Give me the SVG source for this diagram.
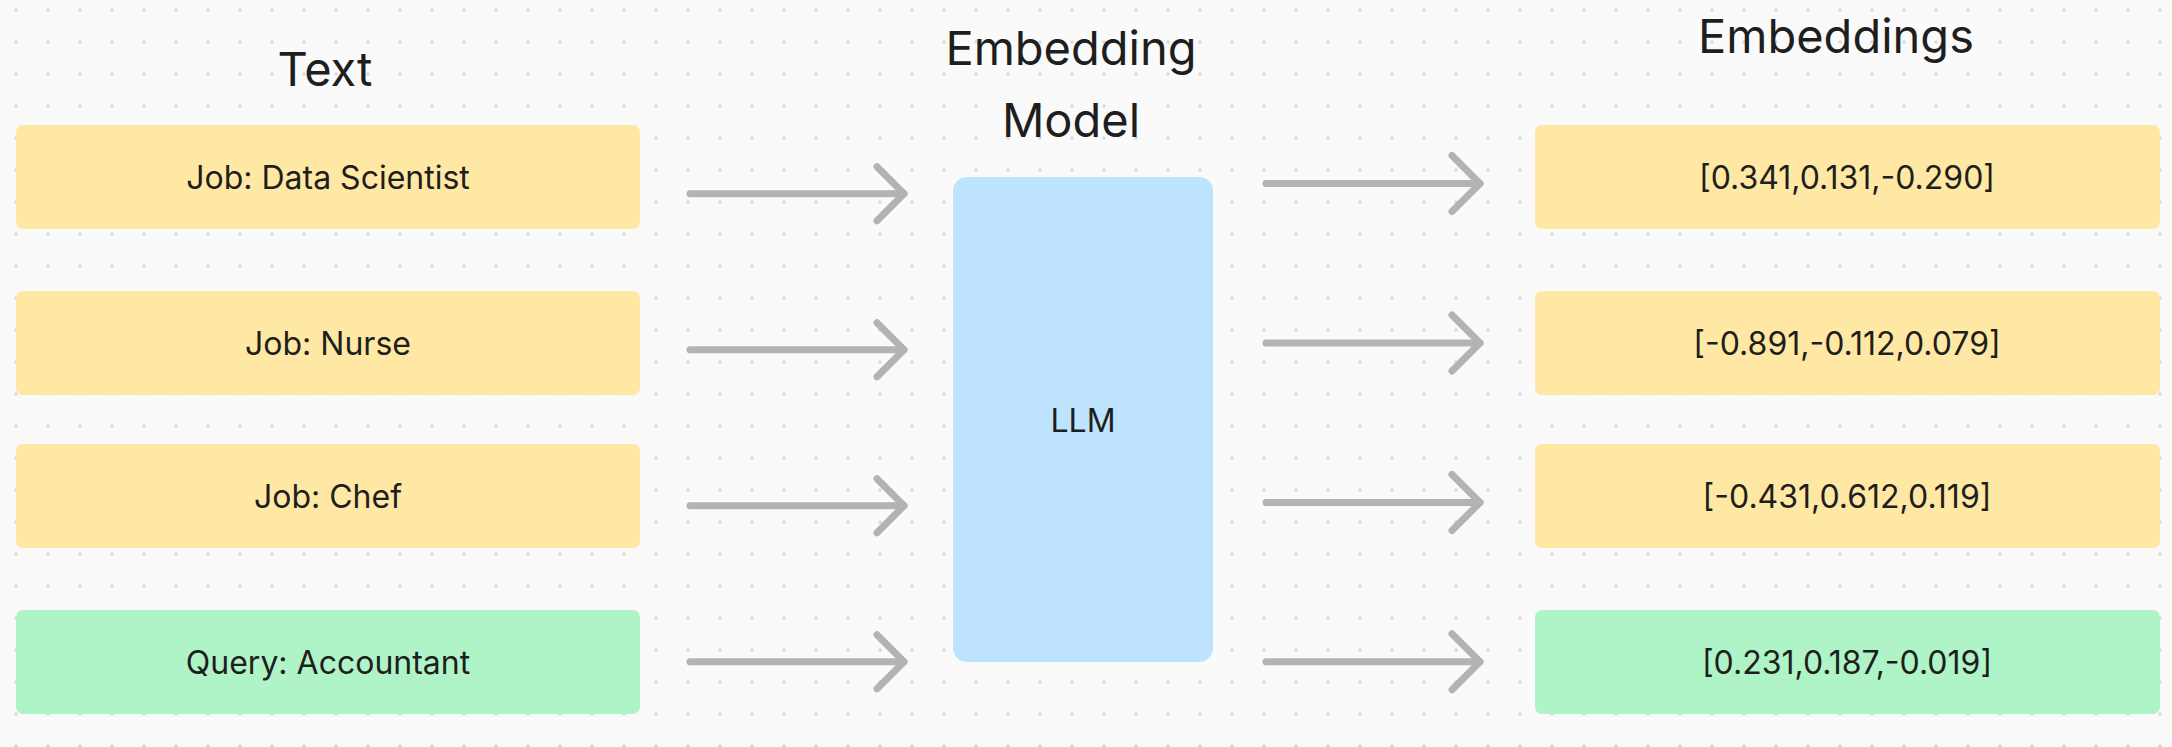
<svg xmlns="http://www.w3.org/2000/svg" xmlns:xlink="http://www.w3.org/1999/xlink" width="2172" height="747" viewBox="0 0 2172 747">
  <style>
    .title { font-family: Inter, "Liberation Sans", sans-serif; font-size: 47px; fill: #1e1e1e; text-anchor: middle; }
    .label { font-family: Inter, "Liberation Sans", sans-serif; font-size: 32px; fill: #1e1e1e; text-anchor: middle; }
    .yellow { fill: #FFE8A3; }
    .green { fill: #AFF4C6; }
    .blue { fill: #BDE3FF; }
    .arrow { fill: none; stroke: #B3B3B3; stroke-width: 7; stroke-linecap: round; stroke-linejoin: round; }
  </style>
  <defs>
    <pattern id="dots" patternUnits="userSpaceOnUse" x="0" y="0" width="32" height="32">
      <circle cx="16" cy="10" r="1.8" fill="#D9D9D9"/>
    </pattern>
    <path id="headL" class="arrow" d="M -27 -27 L 0 0 L -27 27"/>
    <path id="headR" class="arrow" d="M -28 -28 L 0 0 L -28 28"/>
  </defs>

  <rect width="2172" height="747" fill="#FAFAFA"/>
  <rect width="2172" height="747" fill="url(#dots)"/>

  <g id="titles">
    <text class="title" x="325" y="86">Text</text>
    <text class="title" x="1071" y="65">Embedding</text>
    <text class="title" x="1071" y="137">Model</text>
    <text class="title" x="1836" y="53">Embeddings</text>
  </g>

  <g id="connectors">
    <path class="arrow" d="M 690 193.7 H 904"/>
    <use xlink:href="#headL" x="904" y="193.7"/>
    <path class="arrow" d="M 690 349.7 H 904"/>
    <use xlink:href="#headL" x="904" y="349.7"/>
    <path class="arrow" d="M 690 505.7 H 904"/>
    <use xlink:href="#headL" x="904" y="505.7"/>
    <path class="arrow" d="M 690 661.7 H 904"/>
    <use xlink:href="#headL" x="904" y="661.7"/>

    <path class="arrow" d="M 1266 183.5 H 1480"/>
    <use xlink:href="#headR" x="1480" y="183.5"/>
    <path class="arrow" d="M 1266 343 H 1480"/>
    <use xlink:href="#headR" x="1480" y="343"/>
    <path class="arrow" d="M 1266 502.5 H 1480"/>
    <use xlink:href="#headR" x="1480" y="502.5"/>
    <path class="arrow" d="M 1266 661.7 H 1480"/>
    <use xlink:href="#headR" x="1480" y="661.7"/>
  </g>

  <g id="text-data-scientist">
    <rect class="yellow" x="16" y="125" width="624" height="104" rx="7"/>
    <text class="label" x="328" y="189">Job: Data Scientist</text>
  </g>
  <g id="text-nurse">
    <rect class="yellow" x="16" y="291" width="624" height="104" rx="7"/>
    <text class="label" x="328" y="355">Job: Nurse</text>
  </g>
  <g id="text-chef">
    <rect class="yellow" x="16" y="444" width="624" height="104" rx="7"/>
    <text class="label" x="328" y="508">Job: Chef</text>
  </g>
  <g id="text-query">
    <rect class="green" x="16" y="610" width="624" height="104" rx="7"/>
    <text class="label" x="328" y="674">Query: Accountant</text>
  </g>

  <g id="llm">
    <rect class="blue" x="953" y="177" width="260" height="485" rx="14"/>
    <text class="label" x="1083" y="432">LLM</text>
  </g>

  <g id="emb-data-scientist">
    <rect class="yellow" x="1535" y="125" width="625" height="104" rx="7"/>
    <text class="label" x="1847" y="189">[0.341,0.131,-0.290]</text>
  </g>
  <g id="emb-nurse">
    <rect class="yellow" x="1535" y="291" width="625" height="104" rx="7"/>
    <text class="label" x="1847" y="355">[-0.891,-0.112,0.079]</text>
  </g>
  <g id="emb-chef">
    <rect class="yellow" x="1535" y="444" width="625" height="104" rx="7"/>
    <text class="label" x="1847" y="508">[-0.431,0.612,0.119]</text>
  </g>
  <g id="emb-query">
    <rect class="green" x="1535" y="610" width="625" height="104" rx="7"/>
    <text class="label" x="1847" y="674">[0.231,0.187,-0.019]</text>
  </g>
</svg>
